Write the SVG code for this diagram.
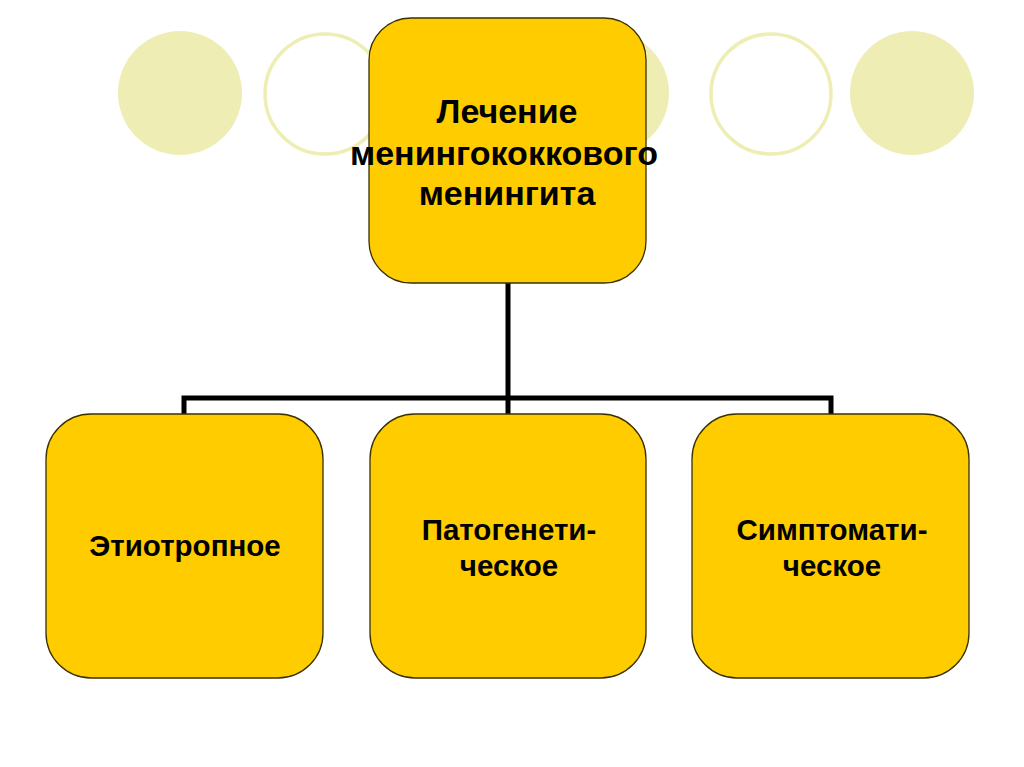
<svg xmlns="http://www.w3.org/2000/svg" width="1024" height="767" viewBox="0 0 1024 767">
<style>
.dot{fill:#EEEEB4}
.ring{fill:#FFFFFF;stroke:#EEEEB4;stroke-width:3.5}
.box{fill:#FFCC00;stroke:#3A3000;stroke-width:1.3}
.lbl{font-family:"Liberation Sans",Arial,sans-serif;font-weight:bold;font-size:29.5px;fill:#000;text-anchor:middle}
.big{font-size:34px}
.conn{fill:none;stroke:#000;stroke-width:5;stroke-linejoin:miter;stroke-linecap:butt}
</style>
<rect width="1024" height="767" fill="#FFFFFF"/>
<g id="decor">
<circle class="dot" cx="180" cy="93" r="62"/>
<circle class="ring" cx="325" cy="94" r="60"/>
<circle class="dot" cx="466" cy="93" r="62"/>
<circle class="dot" cx="607" cy="93" r="62"/>
<circle class="ring" cx="771" cy="94" r="60"/>
<circle class="dot" cx="912" cy="93" r="62"/>
</g>
<g id="connectors">
<path class="conn" d="M508,283 V414"/>
<path class="conn" d="M184,414 V398 H831 V414"/>
</g>
<g id="root">
<rect class="box" x="369" y="18" width="277" height="265" rx="42" ry="42"/>
<text class="lbl big" x="507" y="123">Лечение</text>
<text class="lbl big" x="504" y="165">менингококкового</text>
<text class="lbl big" x="507" y="205">менингита</text>
</g>
<g id="etio">
<rect class="box" x="46" y="414" width="277" height="264" rx="45" ry="45"/>
<text class="lbl" x="185" y="556">Этиотропное</text>
</g>
<g id="patho">
<rect class="box" x="370" y="414" width="276" height="264" rx="45" ry="45"/>
<text class="lbl" x="509" y="540">Патогенети-</text>
<text class="lbl" x="509" y="576">ческое</text>
</g>
<g id="sympt">
<rect class="box" x="692" y="414" width="277" height="264" rx="45" ry="45"/>
<text class="lbl" x="832" y="540">Симптомати-</text>
<text class="lbl" x="832" y="576">ческое</text>
</g>
</svg>
